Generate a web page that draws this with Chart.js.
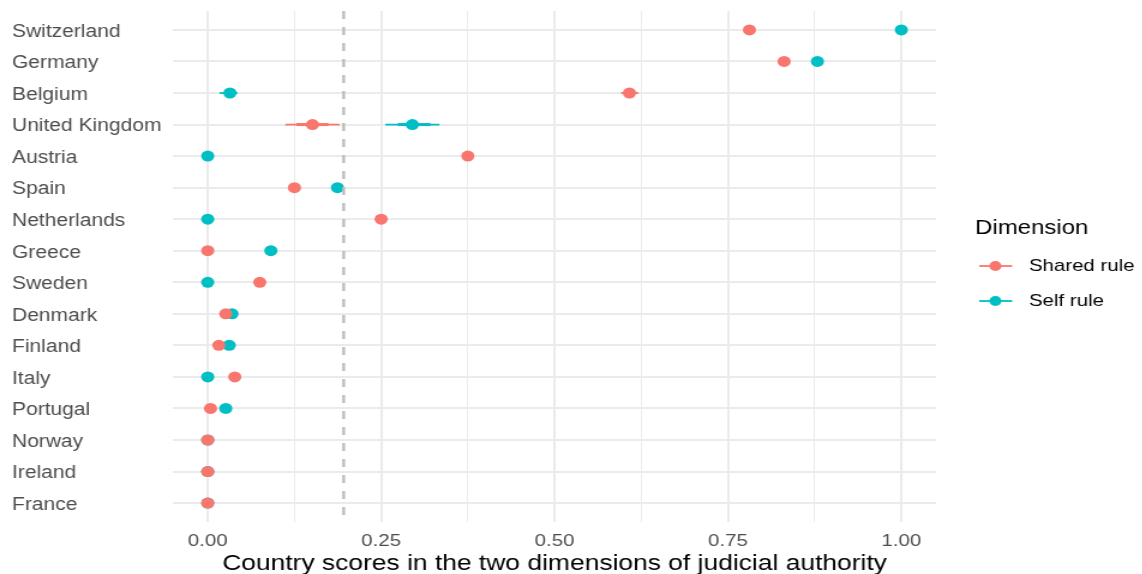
<!DOCTYPE html>
<html>
<head>
<meta charset="utf-8">
<script src="https://cdn.jsdelivr.net/npm/chart.js@4.4.1/dist/chart.umd.min.js"></script>
<style>
  html, body { margin: 0; padding: 0; background: #fff; overflow: hidden; }
  /* plot is laid out on a narrower canvas and stretched sideways */
  #wrap { width: 952px; height: 574px; transform: scaleX(1.2); transform-origin: 0 0; }
</style>
</head>
<body>
<div id="wrap"><canvas id="chart" width="952" height="574"></canvas></div>
<script>
const countries = ["Switzerland", "Germany", "Belgium", "United Kingdom", "Austria", "Spain",
  "Netherlands", "Greece", "Sweden", "Denmark", "Finland", "Italy", "Portugal", "Norway",
  "Ireland", "France"];

const sharedRule = [0.781, 0.831, 0.608, 0.151, 0.375, 0.125, 0.250, 0, 0.075, 0.026, 0.016, 0.039, 0.004, 0, 0, 0];
const selfRule   = [1.000, 0.879, 0.032, 0.295, 0, 0.187, 0, 0.091, 0, 0.035, 0.031, 0, 0.026, 0, 0, 0];

// uncertainty intervals, null where the score is fixed
const sharedLow      = [null, null, 0.596, 0.112, null, null, null, null, null, null, null, null, null, null, null, null];
const sharedHigh     = [null, null, 0.621, 0.190, null, null, null, null, null, null, null, null, null, null, null, null];
const sharedInnerLow = [null, null, null, 0.128, null, null, null, null, null, null, null, null, null, null, null, null];
const sharedInnerHigh= [null, null, null, 0.174, null, null, null, null, null, null, null, null, null, null, null, null];
const selfLow        = [null, null, 0.017, 0.256, null, null, null, null, null, null, null, null, null, null, null, null];
const selfHigh       = [null, null, 0.043, 0.334, null, null, null, null, null, null, null, null, null, null, null, null];
const selfInnerLow   = [null, null, null, 0.274, null, null, null, null, null, null, null, null, null, null, null, null];
const selfInnerHigh  = [null, null, null, 0.321, null, null, null, null, null, null, null, null, null, null, null, null];

const threshold = 0.196;
const xMajor = [0, 0.25, 0.5, 0.75, 1];
const xMinor = [0.125, 0.375, 0.625, 0.875];

const RED = "#F8766D";
const TEAL = "#00BFC4";
const FONT = "'Liberation Sans', Arial, Helvetica, sans-serif";

function points(values) {
  return values.map((v, i) => ({ x: v, y: i }));
}

// horizontal interval lines under the points
const intervals = {
  id: "intervals",
  beforeDatasetsDraw(chart) {
    const { ctx, scales: { x, y } } = chart;
    const sets = [
      [selfLow, selfHigh, selfInnerLow, selfInnerHigh, TEAL],
      [sharedLow, sharedHigh, sharedInnerLow, sharedInnerHigh, RED]
    ];
    ctx.save();
    sets.forEach(([lo, hi, ilo, ihi, col]) => {
      ctx.strokeStyle = col;
      lo.forEach((l, i) => {
        if (l === null) return;
        const py = y.getPixelForValue(i);
        ctx.lineWidth = 1.8;
        ctx.beginPath();
        ctx.moveTo(x.getPixelForValue(l), py);
        ctx.lineTo(x.getPixelForValue(hi[i]), py);
        ctx.stroke();
        if (ilo[i] !== null) {
          ctx.lineWidth = 3;
          ctx.beginPath();
          ctx.moveTo(x.getPixelForValue(ilo[i]), py);
          ctx.lineTo(x.getPixelForValue(ihi[i]), py);
          ctx.stroke();
        }
      });
    });
    ctx.restore();
  }
};

// dashed reference line
const refLine = {
  id: "refLine",
  afterDatasetsDraw(chart) {
    const { ctx, chartArea, scales: { x } } = chart;
    const px = x.getPixelForValue(threshold);
    ctx.save();
    ctx.strokeStyle = "#bdbdbd";
    ctx.lineWidth = 2.4;
    ctx.setLineDash([8, 8]);
    ctx.beginPath();
    ctx.moveTo(px, chartArea.top);
    ctx.lineTo(px, chartArea.bottom);
    ctx.stroke();
    ctx.restore();
  }
};

// legend on the right: title plus line-and-dot keys
const sideLegend = {
  id: "sideLegend",
  afterDraw(chart) {
    const { ctx, chartArea } = chart;
    const left = chartArea.right + 32.5;
    ctx.save();
    ctx.fillStyle = "#000";
    ctx.textBaseline = "middle";
    ctx.font = "20px " + FONT;
    ctx.fillText("Dimension", left, 228);
    const keys = [["Shared rule", RED, 266], ["Self rule", TEAL, 301]];
    keys.forEach(([label, col, ky]) => {
      ctx.strokeStyle = col;
      ctx.fillStyle = col;
      ctx.lineWidth = 1.8;
      ctx.beginPath();
      ctx.moveTo(left + 3.5, ky);
      ctx.lineTo(left + 31, ky);
      ctx.stroke();
      ctx.beginPath();
      ctx.arc(left + 17, ky, 5, 0, Math.PI * 2);
      ctx.fill();
      ctx.fillStyle = "#000";
      ctx.font = "17px " + FONT;
      ctx.fillText(label, left + 45, ky);
    });
    ctx.restore();
  }
};

// the first dataset is painted last, so shared rule sits on top
const chart = new Chart(document.getElementById("chart"), {
  type: "scatter",
  data: {
    datasets: [
      {
        label: "Shared rule",
        data: points(sharedRule),
        backgroundColor: RED,
        borderWidth: 0,
        pointRadius: 5.5,
        pointHoverRadius: 5.5
      },
      {
        label: "Self rule",
        data: points(selfRule),
        backgroundColor: TEAL,
        borderWidth: 0,
        pointRadius: 5.5,
        pointHoverRadius: 5.5
      }
    ]
  },
  options: {
    responsive: false,
    animation: false,
    devicePixelRatio: 1,
    layout: { padding: { left: 10, right: 172, top: 11, bottom: 0 } },
    plugins: {
      legend: { display: false },
      tooltip: { enabled: false }
    },
    scales: {
      x: {
        type: "linear",
        min: -0.05,
        max: 1.05,
        afterBuildTicks: s => {
          s.ticks = xMajor.concat(xMinor).sort((a, b) => a - b).map(v => ({ value: v }));
        },
        afterFit: s => { s.height = 52; },
        border: { display: false },
        grid: {
          color: "#ebebeb",
          drawTicks: false,
          lineWidth: c => (c.tick && xMajor.includes(c.tick.value)) ? 2 : 1
        },
        ticks: {
          autoSkip: false,
          maxRotation: 0,
          padding: 9,
          color: "#4d4d4d",
          font: { family: FONT, size: 17 },
          callback: v => xMajor.includes(v) ? v.toFixed(2) : ""
        },
        title: {
          display: true,
          text: "Country scores in the two dimensions of judicial authority",
          color: "#000",
          font: { family: FONT, size: 22, lineHeight: 1 },
          padding: { top: 0, bottom: -1 }
        }
      },
      y: {
        type: "linear",
        reverse: true,
        min: -0.6,
        max: 15.6,
        afterBuildTicks: s => {
          s.ticks = countries.map((c, i) => ({ value: i }));
        },
        afterFit: s => { s.width = 134.2; },
        border: { display: false },
        grid: { color: "#ebebeb", lineWidth: 2, drawTicks: false },
        ticks: {
          autoSkip: false,
          crossAlign: "far",
          padding: 0,
          labelOffset: 2,
          color: "#4d4d4d",
          font: { family: FONT, size: 17.5 },
          callback: v => countries[v]
        }
      }
    }
  },
  plugins: [intervals, refLine, sideLegend]
});
</script>
</body>
</html>
